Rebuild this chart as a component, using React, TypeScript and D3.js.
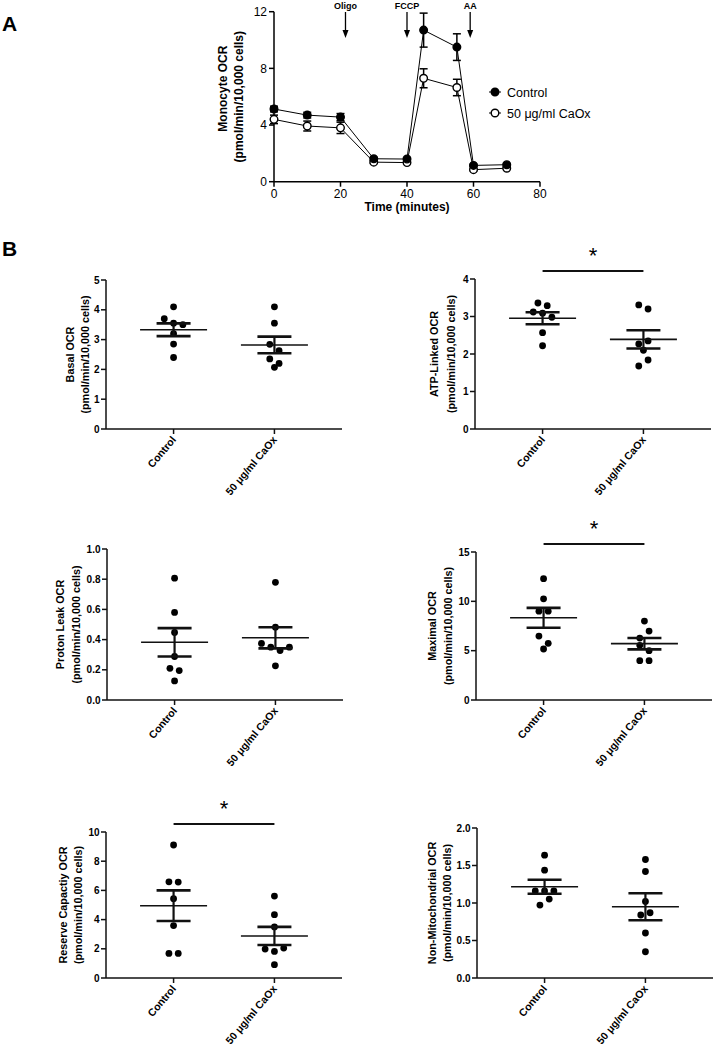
import React from 'react';
import * as d3 from 'd3';

const FONT = "Arial, 'Liberation Sans', Helvetica, sans-serif";

// ---------- Panel A data ----------
const timeMinutes = [0, 10, 20, 30, 40, 45, 55, 60, 70];
const controlOCR = [5.13, 4.7, 4.56, 1.62, 1.6, 10.7, 9.5, 1.15, 1.2];
const controlSEM = [0.2, 0.2, 0.25, 0.1, 0.1, 1.2, 0.94, 0.08, 0.08];
const caoxOCR = [4.4, 3.93, 3.8, 1.38, 1.35, 7.3, 6.65, 0.85, 0.95];
const caoxSEM = [0.3, 0.35, 0.4, 0.08, 0.08, 0.67, 0.58, 0.06, 0.06];
const injectionTimes = [21.5, 40, 59];
const injectionLabels = ['Oligo', 'FCCP', 'AA'];
const seriesNames = ['Control', '50 μg/ml CaOx'];
const timeTicks = [0, 20, 40, 60, 80];
const ocrTicks = [0, 4, 8, 12];

// ---------- Panel B data ----------
const groups = ['Control', '50 μg/ml CaOx'];

const basalControl = [4.1, 3.7, 3.55, 3.5, 3.2, 2.85, 2.4];
const basalCaOx = [4.1, 3.55, 2.84, 2.63, 2.35, 2.2, 2.07];
const basalMean = [3.33, 2.82];
const basalSEM = [0.215, 0.28];

const atpControl = [3.36, 3.29, 3.12, 3.09, 2.98, 2.57, 2.22];
const atpCaOx = [3.31, 3.2, 2.27, 2.35, 2.1, 1.68, 1.84];
const atpMean = [2.955, 2.39];
const atpSEM = [0.16, 0.245];

const protonControl = [0.807, 0.58, 0.447, 0.288, 0.21, 0.195, 0.126];
const protonCaOx = [0.779, 0.482, 0.375, 0.35, 0.327, 0.35, 0.226];
const protonMean = [0.382, 0.412];
const protonSEM = [0.094, 0.07];

const maximalControl = [12.3, 10.25, 9.0, 9.0, 6.48, 5.74, 5.17];
const maximalCaOx = [8.0, 6.28, 6.99, 5.54, 5.0, 3.99, 3.99];
const maximalMean = [8.33, 5.71];
const maximalSEM = [1.01, 0.575];

const reserveControl = [9.11, 6.59, 6.57, 5.43, 3.59, 1.68, 1.68];
const reserveCaOx = [5.61, 4.34, 3.5, 1.98, 1.82, 2.05, 0.91];
const reserveMean = [4.95, 2.88];
const reserveSEM = [1.05, 0.62];

const nonMitoControl = [1.637, 1.438, 1.16, 1.16, 1.16, 0.973, 1.053];
const nonMitoCaOx = [1.58, 1.42, 1.02, 0.84, 0.87, 0.6, 0.35];
const nonMitoMean = [1.217, 0.95];
const nonMitoSEM = [0.093, 0.18];

type PanelDef = {
  label: string;
  ctrl: number[];
  caox: number[];
  mean: number[];
  sem: number[];
  max: number;
  step: number;
  fmt: string;
  sig: boolean;
  ax: number;
  top: number;
  bottom: number;
  off: [number, number];
};

const panels: PanelDef[] = [
  { label: 'Basal OCR', ctrl: basalControl, caox: basalCaOx, mean: basalMean, sem: basalSEM, max: 5, step: 1, fmt: 'd', sig: false, ax: 106, top: 280, bottom: 429, off: [32, 17] },
  { label: 'ATP-Linked  OCR', ctrl: atpControl, caox: atpCaOx, mean: atpMean, sem: atpSEM, max: 4, step: 1, fmt: 'd', sig: true, ax: 475, top: 279, bottom: 429, off: [37, 20] },
  { label: 'Proton Leak OCR', ctrl: protonControl, caox: protonCaOx, mean: protonMean, sem: protonSEM, max: 1, step: 0.2, fmt: '.1f', sig: false, ax: 107, top: 549, bottom: 700, off: [43, 27] },
  { label: 'Maximal OCR', ctrl: maximalControl, caox: maximalCaOx, mean: maximalMean, sem: maximalSEM, max: 15, step: 5, fmt: 'd', sig: true, ax: 476, top: 552, bottom: 700, off: [40, 24] },
  { label: 'Reserve Capactiy OCR', ctrl: reserveControl, caox: reserveCaOx, mean: reserveMean, sem: reserveSEM, max: 10, step: 2, fmt: 'd', sig: true, ax: 106, top: 832, bottom: 978, off: [39, 24] },
  { label: 'Non-Mitochondrial OCR', ctrl: nonMitoControl, caox: nonMitoCaOx, mean: nonMitoMean, sem: nonMitoSEM, max: 2, step: 0.5, fmt: '.1f', sig: false, ax: 477, top: 828, bottom: 978, off: [41, 26] },
];

function swarmOffsets(values: number[], y: (v: number) => number, d: number, thr: number) {
  const idx = values.map((_, i) => i).sort((a, b) => values[b] - values[a]);
  const rows: number[][] = [];
  let cur: number[] = [];
  let firstY = 0;
  for (const i of idx) {
    const yy = y(values[i]);
    if (cur.length && yy - firstY < thr) cur.push(i);
    else {
      if (cur.length) rows.push(cur);
      cur = [i];
      firstY = yy;
    }
  }
  if (cur.length) rows.push(cur);
  const off = new Array(values.length).fill(0);
  rows.forEach((r) => {
    r.sort((a, b) => a - b);
    r.forEach((i, k) => (off[i] = (k - (r.length - 1) / 2) * d));
  });
  return off;
}

function PanelA() {
  const x = d3.scaleLinear().domain([0, 80]).range([274, 540]);
  const y = d3.scaleLinear().domain([0, 12]).range([181.7, 11.7]);
  const line = d3
    .line<number>()
    .x((_, i) => x(timeMinutes[i]))
    .y((v) => y(v));
  const series = [
    { name: seriesNames[1], vals: caoxOCR, sem: caoxSEM, filled: false },
    { name: seriesNames[0], vals: controlOCR, sem: controlSEM, filled: true },
  ];
  return (
    <g fontFamily={FONT}>
      <line x1={x(0)} x2={x(0)} y1={y(0)} y2={y(12)} stroke="#000" strokeWidth={1.5} />
      <line x1={x(0)} x2={x(80)} y1={y(0)} y2={y(0)} stroke="#000" strokeWidth={1.5} />
      {ocrTicks.map((t) => (
        <g key={'yt' + t}>
          <line x1={x(0) - 5} x2={x(0)} y1={y(t)} y2={y(t)} stroke="#000" strokeWidth={1.5} />
          <text x={x(0) - 7} y={y(t)} dy="0.36em" textAnchor="end" fontSize={12}>
            {t}
          </text>
        </g>
      ))}
      {timeTicks.map((t) => (
        <g key={'xt' + t}>
          <line x1={x(t)} x2={x(t)} y1={y(0)} y2={y(0) + 5} stroke="#000" strokeWidth={1.5} />
          <text x={x(t)} y={y(0) + 16} textAnchor="middle" fontSize={12}>
            {t}
          </text>
        </g>
      ))}
      <text x={(x(0) + x(80)) / 2} y={211} textAnchor="middle" fontSize={12} fontWeight="bold">
        Time (minutes)
      </text>
      <text transform={`translate(227,${(y(0) + y(12)) / 2 - 8}) rotate(-90)`} textAnchor="middle" fontSize={12} fontWeight="bold">
        Monocyte OCR
      </text>
      <text transform={`translate(243,${(y(0) + y(12)) / 2}) rotate(-90)`} textAnchor="middle" fontSize={12} fontWeight="bold">
        (pmol/min/10,000 cells)
      </text>
      {injectionTimes.map((t, i) => (
        <g key={'inj' + i}>
          <text x={x(t)} y={9} textAnchor="middle" fontSize={9} fontWeight="bold">
            {injectionLabels[i]}
          </text>
          <line x1={x(t)} x2={x(t)} y1={12} y2={32} stroke="#000" strokeWidth={1.3} />
          <path d={`M${x(t) - 3},${30} L${x(t) + 3},${30} L${x(t)},${38} Z`} fill="#000" />
        </g>
      ))}
      {series.map((s) => (
        <g key={s.name}>
          <path d={line(s.vals) || ''} fill="none" stroke="#000" strokeWidth={1} />
          {s.vals.map((v, i) => (
            <g key={i}>
              <line x1={x(timeMinutes[i])} x2={x(timeMinutes[i])} y1={y(v - s.sem[i])} y2={y(v + s.sem[i])} stroke="#000" strokeWidth={1.5} />
              <line x1={x(timeMinutes[i]) - 4} x2={x(timeMinutes[i]) + 4} y1={y(v - s.sem[i])} y2={y(v - s.sem[i])} stroke="#000" strokeWidth={1.5} />
              <line x1={x(timeMinutes[i]) - 4} x2={x(timeMinutes[i]) + 4} y1={y(v + s.sem[i])} y2={y(v + s.sem[i])} stroke="#000" strokeWidth={1.5} />
            </g>
          ))}
          {s.vals.map((v, i) => (
            <circle key={'c' + i} cx={x(timeMinutes[i])} cy={y(v)} r={3.8} fill={s.filled ? '#000' : '#fff'} stroke="#000" strokeWidth={1.4} />
          ))}
        </g>
      ))}
      {seriesNames.map((n, i) => (
        <g key={'lg' + n}>
          <line x1={489} x2={501} y1={92 + i * 21} y2={92 + i * 21} stroke="#000" strokeWidth={1} />
          <circle cx={495} cy={92 + i * 21} r={3.8} fill={i === 0 ? '#000' : '#fff'} stroke="#000" strokeWidth={1.4} />
          <text x={507} y={92 + i * 21} dy="0.36em" fontSize={12.5}>
            {n}
          </text>
        </g>
      ))}
    </g>
  );
}

function PanelB({ p }: { p: PanelDef }) {
  const y = d3.scaleLinear().domain([0, p.max]).range([p.bottom, p.top]);
  const x = d3.scalePoint<string>().domain(groups).range([p.ax, p.ax + 236]).padding(0.67);
  const ticks = d3.range(0, p.max + p.step / 2, p.step);
  const fmt = d3.format(p.fmt);
  const d = 9.3;
  const sets = [p.ctrl, p.caox];
  const midY = (p.top + p.bottom) / 2;
  const cx0 = x(groups[0]) as number;
  const cx1 = x(groups[1]) as number;
  const barY = p.top - 8;
  return (
    <g fontFamily={FONT}>
      <line x1={p.ax} x2={p.ax} y1={p.bottom} y2={p.top} stroke="#111" strokeWidth={1.5} />
      <line x1={p.ax} x2={p.ax + 236} y1={p.bottom} y2={p.bottom} stroke="#111" strokeWidth={1.5} />
      {ticks.map((t) => (
        <g key={'t' + t}>
          <line x1={p.ax - 5} x2={p.ax} y1={y(t)} y2={y(t)} stroke="#111" strokeWidth={1.5} />
          <text x={p.ax - 6.5} y={y(t)} dy="0.36em" textAnchor="end" fontSize={10} fontWeight="bold">
            {fmt(t)}
          </text>
        </g>
      ))}
      <text transform={`translate(${p.ax - p.off[0]},${midY}) rotate(-90)`} textAnchor="middle" fontSize={10.8} fontWeight="bold">
        {p.label}
      </text>
      <text transform={`translate(${p.ax - p.off[1]},${midY}) rotate(-90)`} textAnchor="middle" fontSize={10.8} fontWeight="bold">
        (pmol/min/10,000 cells)
      </text>
      {groups.map((g, gi) => {
        const cx = x(g) as number;
        const offs = swarmOffsets(sets[gi], y, d, 7.5);
        const m = p.mean[gi];
        const s = p.sem[gi];
        return (
          <g key={g}>
            <line x1={cx} x2={cx} y1={p.bottom} y2={p.bottom + 5} stroke="#111" strokeWidth={1.5} />
            <text transform={`translate(${cx + 3},${p.bottom + 11}) rotate(-50)`} textAnchor="end" fontSize={10.5} fontWeight="bold">
              {g}
            </text>
            {sets[gi].map((v, i) => (
              <circle key={i} cx={cx + offs[i]} cy={y(v)} r={3.4} fill="#000" />
            ))}
            <line x1={cx - 33.5} x2={cx + 33.5} y1={y(m)} y2={y(m)} stroke="#111" strokeWidth={1.6} />
            <line x1={cx} x2={cx} y1={y(m - s)} y2={y(m + s)} stroke="#111" strokeWidth={2.2} />
            <line x1={cx - 17} x2={cx + 17} y1={y(m + s)} y2={y(m + s)} stroke="#111" strokeWidth={2.6} />
            <line x1={cx - 17} x2={cx + 17} y1={y(m - s)} y2={y(m - s)} stroke="#111" strokeWidth={2.6} />
          </g>
        );
      })}
      {p.sig && (
        <g>
          <line x1={cx0} x2={cx1} y1={barY} y2={barY} stroke="#111" strokeWidth={2} />
          <text x={(cx0 + cx1) / 2} y={barY - 8} textAnchor="middle" fontSize={22}>
            *
          </text>
        </g>
      )}
    </g>
  );
}

export default function App() {
  return (
    <svg
      width={714}
      height={1048}
      style={{ position: 'absolute', left: 0, top: 0, background: '#fff' }}
    >
      <rect width={714} height={1048} fill="#fff" />
      <text x={2} y={31} fontFamily={FONT} fontSize={21} fontWeight="bold">
        A
      </text>
      <text x={2} y={256} fontFamily={FONT} fontSize={21} fontWeight="bold">
        B
      </text>
      <PanelA />
      {panels.map((p) => (
        <PanelB key={p.label} p={p} />
      ))}
    </svg>
  );
}
